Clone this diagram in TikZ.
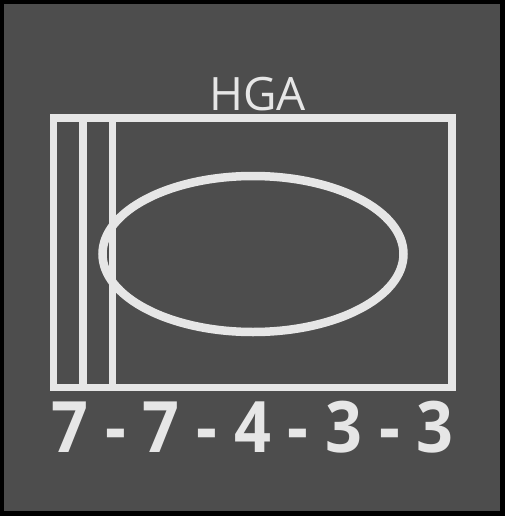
\documentclass[tikz,border=0pt]{standalone}
\usepackage{fontspec}
\setmainfont{Open Sans}
\definecolor{panelgray}{HTML}{4D4D4D}
\definecolor{chalk}{HTML}{E6E6E6}
\begin{document}
\begin{tikzpicture}[x=1pt, y=-1pt,
        outline/.style={draw=chalk, line width=7.5pt},
        label/.style={text=chalk, inner sep=0pt, anchor=base}
    ]
        % frame and background
        \fill[black] (0,0) rectangle (505,516);
        \fill[panelgray] (4,4.3) rectangle (500,511);

        % antenna outline
        \draw[outline] (53.7,118) rectangle (452,387.5);
        \draw[outline] (83,118) -- (83,387.5);
        \draw[outline] (112.3,118) -- (112.3,387.5);
        \draw[outline, line width=8.5pt] (253,254) ellipse [x radius=150.5, y radius=78];

        \node[label, font=\fontsize{46}{46}\selectfont] (title) at (257.8,110.7) {HGA};
        \node[label, xscale=0.91, font=\bfseries\fontsize{71}{71}\selectfont] (code) at (252.5,452.7) {7 - 7 - 4 - 3 - 3};
    \end{tikzpicture}
\end{document}
